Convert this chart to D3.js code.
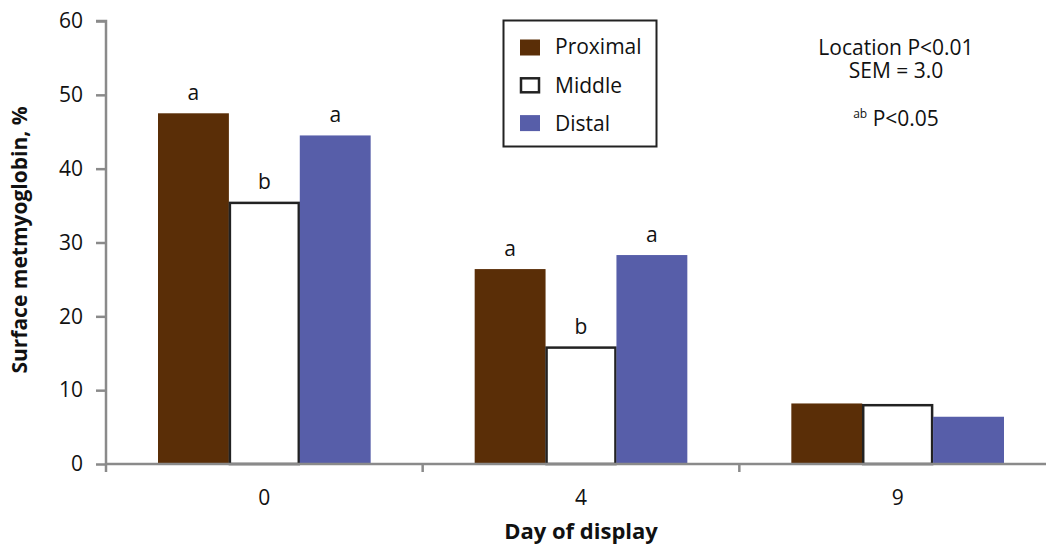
<!DOCTYPE html>
<html>
<head>
<meta charset="utf-8">
<script src="https://cdn.jsdelivr.net/npm/d3@7"></script>
<style>
  html, body { margin: 0; padding: 0; background: #fff; }
  svg { display: block; font-family: "Open Sans", "Noto Sans", sans-serif; }
</style>
</head>
<body>
<svg id="chart" width="1046" height="546"></svg>
<script>
// Surface metmyoglobin by day of display and steak location
const days = ["0", "4", "9"];
const locations = ["Proximal", "Middle", "Distal"];
const proximal = [47.5, 26.4, 8.2];
const middle = [35.5, 15.9, 8.1];
const distal = [44.5, 28.3, 6.4];
const proximalLetters = ["a", "a", ""];
const middleLetters = ["b", "b", ""];
const distalLetters = ["a", "a", ""];
const yTicks = [0, 10, 20, 30, 40, 50, 60];
const notes = ["Location P<0.01", "SEM = 3.0"];

const series = [
  { name: locations[0], values: proximal, letters: proximalLetters, fill: "#5a2e07", stroke: "none" },
  { name: locations[1], values: middle, letters: middleLetters, fill: "#ffffff", stroke: "#222" },
  { name: locations[2], values: distal, letters: distalLetters, fill: "#575ea9", stroke: "none" }
];

const svg = d3.select("#chart");
const axisColor = "#8a8a8a";
const fs = 21;

const x0 = d3.scaleBand().domain(days).range([106, 1056]).paddingInner(0).paddingOuter(0);
const x1 = d3.scaleBand().domain(locations).range([52, x0.bandwidth() - 52]).padding(0);
const y = d3.scaleLinear().domain([0, 60]).range([464, 21]);

// bars with significance letters
const groups = svg.append("g").selectAll("g").data(days).join("g")
  .attr("transform", d => `translate(${x0(d)},0)`);

series.forEach(s => {
  const inset = s.stroke === "none" ? 0 : 1;
  groups.append("rect")
    .attr("x", x1(s.name) + inset)
    .attr("y", (d, i) => y(s.values[i]) + inset)
    .attr("width", x1.bandwidth() - 2 * inset)
    .attr("height", (d, i) => y(0) - y(s.values[i]) - inset)
    .attr("fill", s.fill)
    .attr("stroke", s.stroke)
    .attr("stroke-width", 2.5);
  groups.append("text")
    .attr("x", x1(s.name) + x1.bandwidth() / 2)
    .attr("y", (d, i) => y(s.values[i]) - 13)
    .attr("text-anchor", "middle")
    .attr("font-size", fs)
    .attr("fill", "#111")
    .text((d, i) => s.letters[i]);
});

// y axis
const yAxis = d3.axisLeft(y).tickValues(yTicks).tickSize(10).tickPadding(13);
const gy = svg.append("g").attr("transform", "translate(106,0)").call(yAxis);
gy.select(".domain").attr("stroke", axisColor).attr("stroke-width", 2.5).attr("d", "M-10,21H0V464");
gy.selectAll(".tick line").attr("stroke", axisColor).attr("stroke-width", 2.5);
gy.selectAll(".tick text").attr("font-size", fs).attr("fill", "#111")
  .attr("font-family", "'Open Sans', sans-serif");

// x axis: baseline with ticks at category boundaries
const gx = svg.append("g");
gx.append("line").attr("x1", 106).attr("x2", 1056).attr("y1", y(0)).attr("y2", y(0))
  .attr("stroke", axisColor).attr("stroke-width", 2.5);
gx.selectAll("line.tk").data(days).join("line")
  .attr("class", "tk")
  .attr("x1", d => x0(d) + x0.bandwidth())
  .attr("x2", d => x0(d) + x0.bandwidth())
  .attr("y1", y(0)).attr("y2", y(0) + 8)
  .attr("stroke", axisColor).attr("stroke-width", 2.5);
gx.append("line").attr("x1", 106).attr("x2", 106).attr("y1", y(0)).attr("y2", y(0) + 8)
  .attr("stroke", axisColor).attr("stroke-width", 2.5);
gx.selectAll("text").data(days).join("text")
  .attr("x", d => x0(d) + x0.bandwidth() / 2)
  .attr("y", 505)
  .attr("text-anchor", "middle")
  .attr("font-size", fs)
  .attr("fill", "#111")
  .text(d => d);

// axis titles
svg.append("text")
  .attr("x", 581).attr("y", 539)
  .attr("text-anchor", "middle")
  .attr("font-size", 22).attr("font-weight", "bold").attr("fill", "#111")
  .text("Day of display");
svg.append("text")
  .attr("transform", "translate(27,240) rotate(-90)")
  .attr("text-anchor", "middle")
  .attr("font-size", 21).attr("font-weight", "bold").attr("fill", "#111")
  .text("Surface metmyoglobin, %");

// legend
const legend = svg.append("g");
legend.append("rect").attr("x", 503.5).attr("y", 20.5).attr("width", 153).attr("height", 126)
  .attr("fill", "#fff").attr("stroke", "#222").attr("stroke-width", 2);
series.forEach((s, i) => {
  const cy = 47.5 + i * 37.8;
  const inset = s.stroke === "none" ? 0 : 1;
  legend.append("rect")
    .attr("x", 520 + inset).attr("y", cy - 8 + inset)
    .attr("width", 20 - 2 * inset).attr("height", 16 - 2 * inset)
    .attr("fill", s.fill).attr("stroke", s.stroke).attr("stroke-width", 2.5);
  legend.append("text")
    .attr("x", 555).attr("y", 54 + i * 38.7)
    .attr("font-size", fs).attr("fill", "#111")
    .text(s.name);
});

// statistics notes
svg.append("text").attr("text-anchor", "middle").attr("font-size", fs).attr("fill", "#111")
  .selectAll("tspan").data(notes).join("tspan")
  .attr("x", 896).attr("y", (d, i) => 55 + i * 23)
  .text(d => d);
const ab = svg.append("text").attr("x", 896).attr("y", 126).attr("text-anchor", "middle")
  .attr("font-size", fs).attr("fill", "#111");
ab.append("tspan").attr("font-size", 12).attr("dy", -8).text("ab");
ab.append("tspan").attr("dy", 8).text(" P<0.05");
</script>
</body>
</html>
